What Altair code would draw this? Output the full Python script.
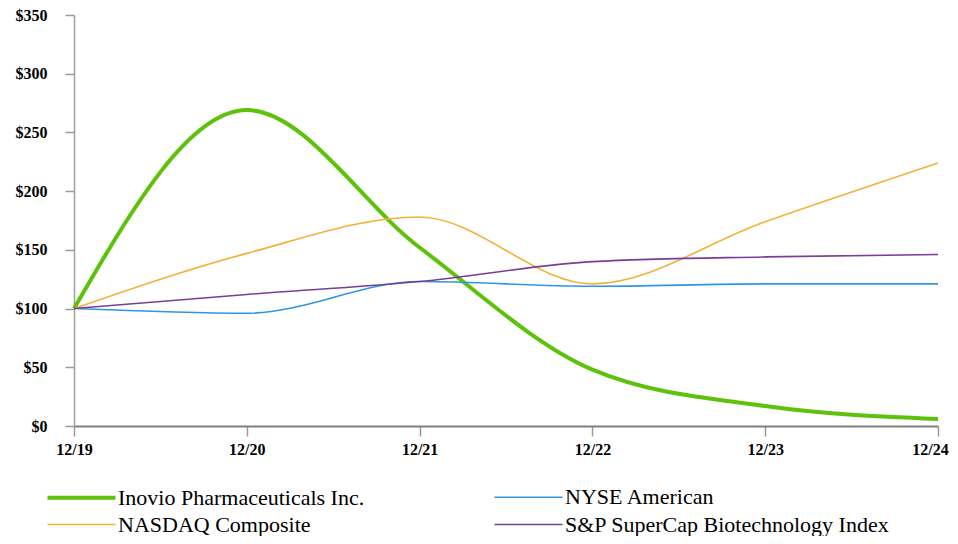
import altair as alt
import pandas as pd

periods = ["12/19", "12/20", "12/21", "12/22", "12/23", "12/24"]
inovio = [100, 269, 152, 48, 17, 6]
nyse = [100, 96, 123, 119, 121, 121]
nasdaq = [100, 147, 178, 121, 174, 224]
sp_bio = [100, 112, 123, 140, 144, 146]

series_names = ["Inovio Pharmaceuticals Inc.", "NYSE American",
                "NASDAQ Composite", "S&P SuperCap Biotechnology Index"]
series_vals = [inovio, nyse, nasdaq, sp_bio]
colors = ["#5EC10C", "#2E97E3", "#F2B23A", "#7A3D96"]
widths = [4, 1.6, 1.6, 1.6]

rows = []
for name, vals in zip(series_names, series_vals):
    for p, v in zip(periods, vals):
        rows.append({"period": p, "value": v, "series": name})
df = pd.DataFrame(rows)

font = "Liberation Serif, Times New Roman, Times, serif"

def make_legend():
    return alt.Legend(title=None, orient="none", legendX=-6, legendY=469,
                      values=series_names, direction="horizontal",
                      columns=2, columnPadding=126, rowPadding=3,
                      symbolType="M-3,0H3", symbolSize=514,
                      labelFont=font, labelFontSize=22, labelColor="black",
                      labelOffset=23, padding=0, labelLimit=400)

chart = alt.Chart(df).mark_line(interpolate="monotone").encode(
    x=alt.X("period:O", sort=periods, title=None,
            scale=alt.Scale(padding=0),
            axis=alt.Axis(labelAngle=0, labelFont=font, labelFontWeight="bold",
                          labelFontSize=16, labelColor="black", labelPadding=5,
                          labelOffset={"condition": {"test": "datum.label == '12/24'", "value": -8}, "value": 0},
                          tickSize=10, tickColor="#999999", tickWidth=1.5,
                          domainColor="#7f7f7f", domainWidth=2, grid=False)),
    y=alt.Y("value:Q", title=None,
            scale=alt.Scale(domain=[0, 350], nice=False),
            axis=alt.Axis(values=list(range(0, 351, 50)), format="$d",
                          labelFont=font, labelFontWeight="bold", labelFontSize=16,
                          labelColor="black", labelPadding=18,
                          tickSize=9, tickColor="#999999", tickWidth=1.5,
                          domainColor="#a0a0a0", domainWidth=1.5, grid=False)),
    color=alt.Color("series:N", sort=series_names,
                    scale=alt.Scale(domain=series_names, range=colors),
                    legend=make_legend()),
    strokeWidth=alt.StrokeWidth("series:N", sort=series_names,
                                scale=alt.Scale(type="ordinal", domain=series_names, range=widths),
                                legend=make_legend()),
).properties(
    width=864, height=411,
    autosize=alt.AutoSizeParams(type="none"),
    padding={"left": 66, "top": 7, "right": 12, "bottom": 110},
).configure_view(stroke=None).configure_legend(labelFont=font, labelFontSize=22)

chart.save("out.html", embed_options={"renderer": "svg", "actions": False})
